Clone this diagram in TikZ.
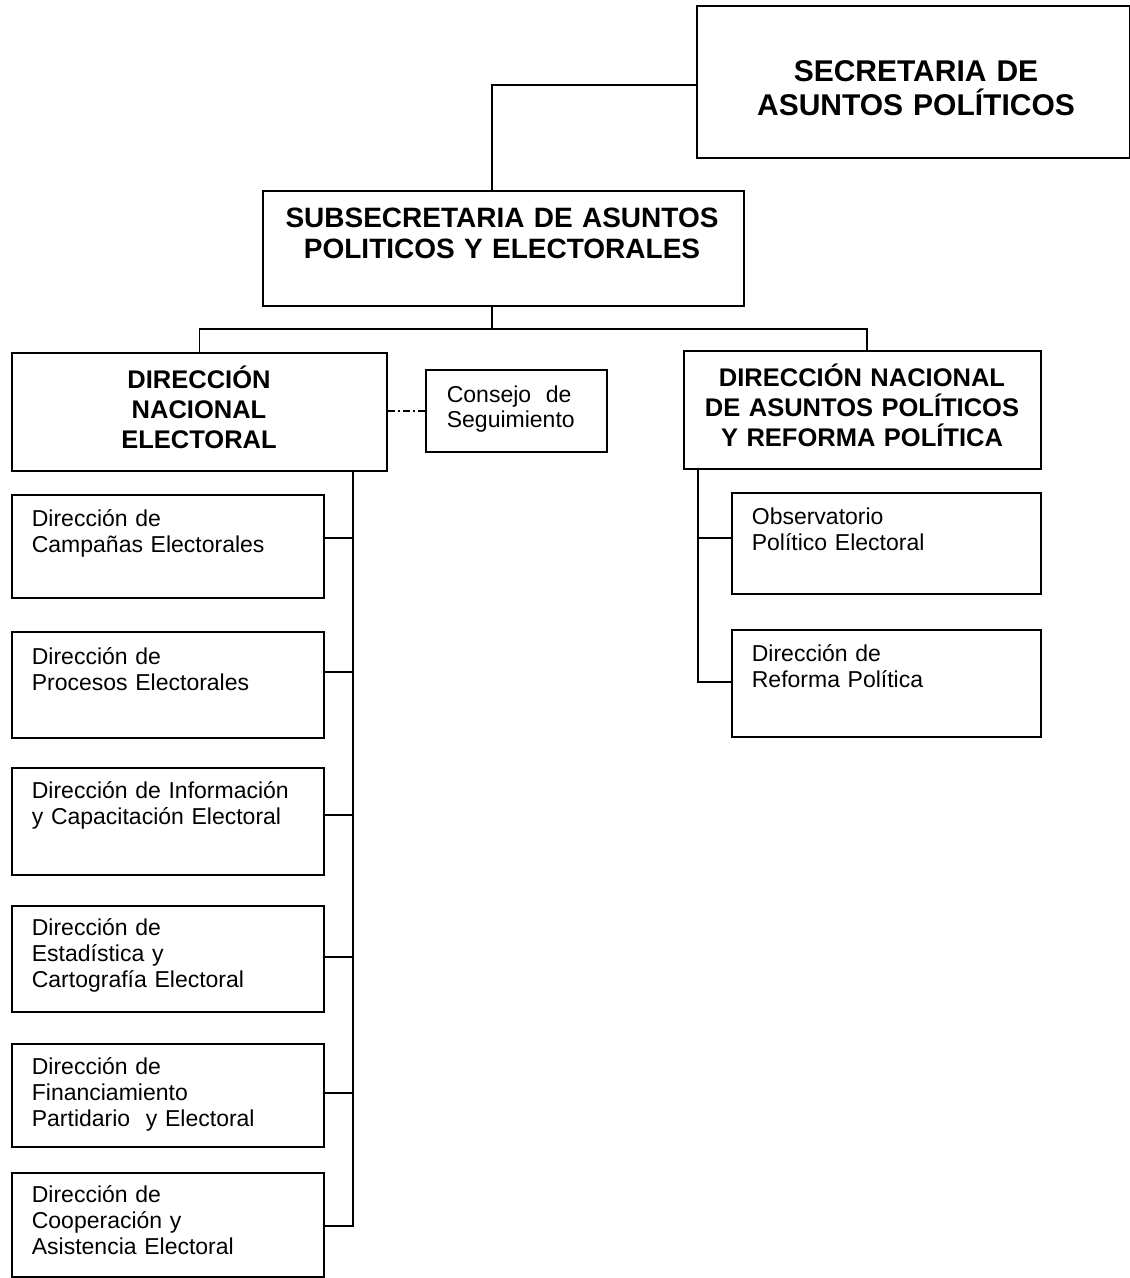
\documentclass[tikz,border=0pt]{standalone}
\usepackage{fontspec}
\setmainfont{Liberation Sans}
\begin{document}
\begin{tikzpicture}[x=1pt,y=-1pt,
 line width=1.7pt,
 box/.style={draw, inner sep=0pt, anchor=north west},
 lbl/.style={inner sep=0pt, anchor=base west, align=left, text width=300pt, font=\fontsize{23}{26}\selectfont},
 ttl/.style={inner sep=0pt, anchor=base, align=center, font=\bfseries\fontsize{25.5}{30}\selectfont},
 dashdotline/.style={line width=1.6pt, dash pattern=on 7pt off 3pt on 2pt off 3pt}
]
\useasboundingbox (0,0) rectangle (1130,1278);

% boxes
\node[box, minimum width=433pt, minimum height=152pt] (sec) at (696,5) {};
\node[box, minimum width=481pt, minimum height=115pt] (sub) at (262,190) {};
\node[box, minimum width=375pt, minimum height=118pt] (dne) at (11,352) {};
\node[box, minimum width=181pt, minimum height=82pt] (cons) at (425,369) {};
\node[box, minimum width=357pt, minimum height=118pt] (dnap) at (683,350) {};
\node[box, minimum width=312pt, minimum height=103pt] (b1) at (11,494) {};
\node[box, minimum width=312pt, minimum height=106pt] (b2) at (11,631) {};
\node[box, minimum width=312pt, minimum height=107pt] (b3) at (11,767) {};
\node[box, minimum width=312pt, minimum height=106pt] (b4) at (11,905) {};
\node[box, minimum width=312pt, minimum height=103pt] (b5) at (11,1043) {};
\node[box, minimum width=312pt, minimum height=104pt] (b6) at (11,1172) {};
\node[box, minimum width=309pt, minimum height=101pt] (obs) at (731,492) {};
\node[box, minimum width=309pt, minimum height=107pt] (ref) at (731,629) {};

% titles
\node[ttl, text width=420pt, font=\bfseries\fontsize{30}{34}\selectfont] (tsec) at (916,81) {SECRETARIA DE\\ASUNTOS POLÍTICOS};
\node[ttl, text width=470pt, font=\bfseries\fontsize{28}{31}\selectfont] (tsub) at (502,227) {SUBSECRETARIA DE ASUNTOS\\POLITICOS Y ELECTORALES};
\node[ttl, text width=360pt] (tdne) at (199,388) {DIRECCIÓN\\NACIONAL\\ELECTORAL};
\node[ttl, text width=350pt] (tdnap) at (862,386) {DIRECCIÓN NACIONAL\\DE ASUNTOS POLÍTICOS\\Y REFORMA POLÍTICA};

% labels
\node[lbl, text width=170pt, font=\fontsize{23}{25}\selectfont] (tcons) at (446,402) {Consejo\hspace{0.3em} de\\Seguimiento};
\node[lbl] (t1) at (31,526) {Dirección de\\Campañas Electorales};
\node[lbl] (t2) at (31,664) {Dirección de\\Procesos Electorales};
\node[lbl] (t3) at (31,798) {Dirección de Información\\y Capacitación Electoral};
\node[lbl] (t4) at (31,935) {Dirección de\\Estadística y\\Cartografía Electoral};
\node[lbl] (t5) at (31,1074) {Dirección de\\Financiamiento\\Partidario\hspace{0.35em} y Electoral};
\node[lbl] (t6) at (31,1202) {Dirección de\\Cooperación y\\Asistencia Electoral};
\node[lbl] (tobs) at (751,524) {Observatorio\\Político Electoral};
\node[lbl] (tref) at (751,661) {Dirección de\\Reforma Política};

% connectors
\coordinate (j0) at (492,85);
\coordinate (j1) at (492,329);
\coordinate (sp) at (353,0);
\coordinate (sr) at (698,0);
\draw (sec.west |- j0) -- (j0) -- (j0 |- sub.north);
\draw (j1 |- sub.south) -- (j1);
\draw (dne.north) |- (j1) -| ([xshift=4.5pt]dnap.north);
\draw[dashdotline] (cons.west) -- (cons.west -| dne.east);

\coordinate (k1) at (353,538);
\coordinate (k2) at (353,672);
\coordinate (k3) at (353,815);
\coordinate (k4) at (353,957);
\coordinate (k5) at (353,1093);
\coordinate (k6) at (353,1226);
\draw (dne.south -| sp) -- (k6) -- (k6 -| b6.east);
\foreach \k/\b in {k1/b1,k2/b2,k3/b3,k4/b4,k5/b5}{
  \draw (\k) -- (\k -| \b.east);
}

\coordinate (r1) at (698,538);
\coordinate (r2) at (698,682);
\draw (dnap.south -| sr) -- (r2) -- (r2 -| ref.west);
\draw (r1) -- (r1 -| obs.west);
\end{tikzpicture}
\end{document}
